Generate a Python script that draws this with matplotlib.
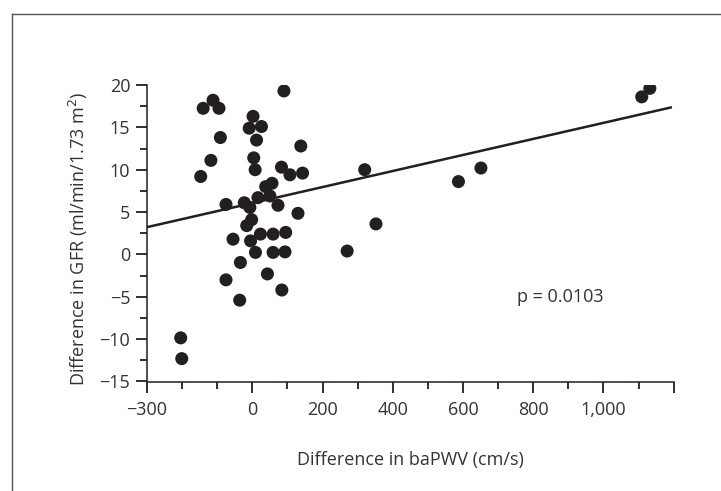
"""Scatter of GFR change vs baPWV change with regression line"""

import matplotlib
matplotlib.use('Agg')
import matplotlib.pyplot as plt
from matplotlib.lines import Line2D
from matplotlib.ticker import FixedLocator, FixedFormatter, MultipleLocator

# Data
baPWV_diff = [90, -112, -140, -95, 2, -9, 26, -91, 12, 138, 4, -118, 8, 83, 107, 143,
              -147, 56, 38, 16, 50, -75, -23, -7, 73, 130, -2, -16, -55, -5, 23, 59,
              95, 9, 59, 93, -34, 43, -75, 84, -36, -204, -201,
              320, 352, 270, 587, 651, 1109, 1132]
gfr_diff = [19.3, 18.2, 17.25, 17.25, 16.3, 14.9, 15.1, 13.8, 13.5, 12.8, 11.4, 11.1,
            10.0, 10.3, 9.4, 9.6, 9.2, 8.4, 8.0, 6.7, 6.9, 5.9, 6.1, 5.55, 5.8, 4.85,
            4.1, 3.4, 1.8, 1.6, 2.4, 2.4, 2.6, 0.24, 0.24, 0.3, -0.95, -2.3, -3.0,
            -4.2, -5.4, -9.85, -12.3,
            10.0, 3.6, 0.4, 8.6, 10.2, 18.6, 19.6]

# Regression line
fit_x = [-300, 1195]
fit_slope = 0.00947
fit_intercept = 6.06
p_text = 'p = 0.0103'

x_major = [-300, 0, 200, 400, 600, 800, 1000, 1200]
x_labels = ['\u2212300', '0', '200', '400', '600', '800', '1,000', '']
y_major = [-15, -10, -5, 0, 5, 10, 15, 20]
y_labels = ['\u221215', '\u221210', '\u22125', '0', '5', '10', '15', '20']

ink = '#231f20'
plt.rcParams['font.family'] = ['Open Sans', 'DejaVu Sans']
plt.rcParams['font.size'] = 13

W, H = 721, 491
fig = plt.figure(figsize=(W / 100, H / 100), dpi=100)
ax = fig.add_axes([147 / W, 1 - 381.5 / H, (673.7 - 147) / W, (381.5 - 85) / H])

# Outer frame (only top and left visible in reference)
fig.add_artist(Line2D([12 / W, 1.0], [1 - 13.8 / H, 1 - 13.8 / H], color='#555555', lw=1.0))
fig.add_artist(Line2D([12 / W, 12 / W], [1 - 13.8 / H, 0.0], color='#555555', lw=1.0))

fit_y = [fit_intercept + fit_slope * x for x in fit_x]
ax.plot(fit_x, fit_y, color=ink, lw=1.8, zorder=2, solid_capstyle='butt')
ax.scatter(baPWV_diff, gfr_diff, s=88, color=ink, edgecolors='none', zorder=3)

ax.set_xlim(-300, 1200)
ax.set_ylim(-15, 20)
for side in ['top', 'right']:
    ax.spines[side].set_visible(False)
for side in ['left', 'bottom']:
    ax.spines[side].set_color(ink)
    ax.spines[side].set_linewidth(1.1)

ax.xaxis.set_major_locator(FixedLocator(x_major))
ax.xaxis.set_major_formatter(FixedFormatter(x_labels))
ax.xaxis.set_minor_locator(MultipleLocator(100))
ax.yaxis.set_major_locator(FixedLocator(y_major))
ax.yaxis.set_major_formatter(FixedFormatter(y_labels))
ax.yaxis.set_minor_locator(MultipleLocator(2.5))
ax.tick_params(which='major', length=8, width=1.3, color=ink, labelcolor='#333333', pad=6)
ax.tick_params(which='minor', length=5, width=1.3, color=ink)
ax.tick_params(axis='y', which='major', pad=4)

ax.set_xlabel('Difference in baPWV (cm/s)', color='#333333', va='center')
ax.xaxis.set_label_coords(0.5, -0.265)
ax.set_ylabel('Difference in GFR (ml/min/1.73 m$^2$)', color='#333333', va='center')
ax.yaxis.set_label_coords(-0.131, 0.48)

ax.text(877, -5.0, p_text, ha='center', va='center', color='#333333')

fig.savefig('out.png', dpi=100)
